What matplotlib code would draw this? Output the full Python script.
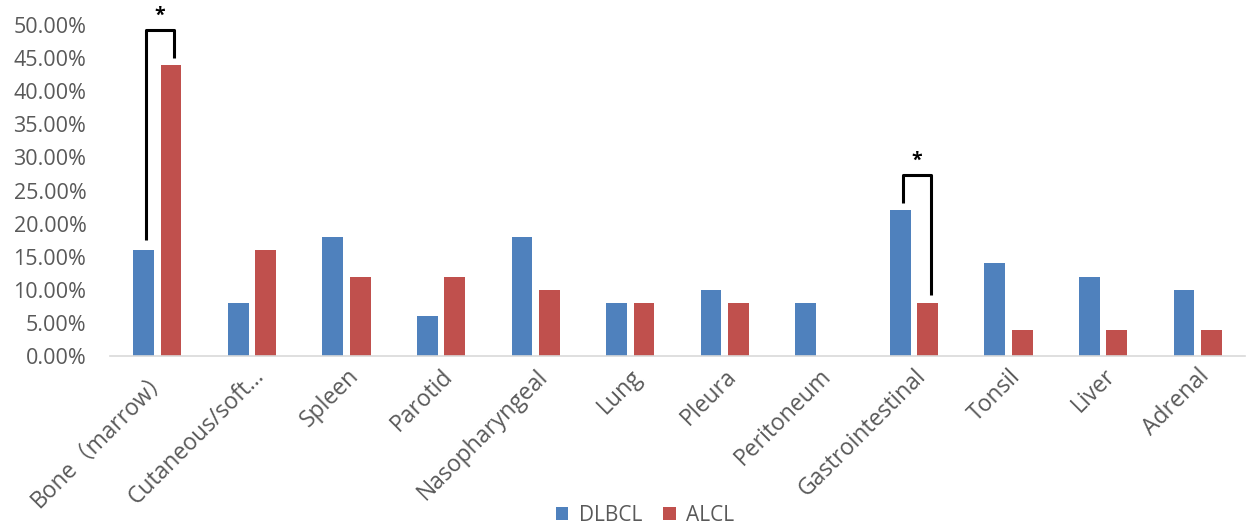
import matplotlib
matplotlib.use("Agg")
import matplotlib.pyplot as plt
import numpy as np
from matplotlib.ticker import FuncFormatter

categories = ["Bone（marrow）", "Cutaneous/soft…", "Spleen", "Parotid", "Nasopharyngeal",
              "Lung", "Pleura", "Peritoneum", "Gastrointestinal", "Tonsil", "Liver", "Adrenal"]
dlbcl = [0.16, 0.08, 0.18, 0.06, 0.18, 0.08, 0.10, 0.08, 0.22, 0.14, 0.12, 0.10]
alcl = [0.44, 0.16, 0.12, 0.12, 0.10, 0.08, 0.08, 0.00, 0.08, 0.04, 0.04, 0.04]
series_names = ["DLBCL", "ALCL"]
yticks = [0.0, 0.05, 0.10, 0.15, 0.20, 0.25, 0.30, 0.35, 0.40, 0.45, 0.50]

plt.rcParams['font.family'] = ['Open Sans', 'Noto Sans CJK SC', 'DejaVu Sans']

fig = plt.figure(figsize=(12.5, 5.24), dpi=100)
ax = fig.add_axes([0.088, 0.3206, 0.908, 0.6316])

x = np.arange(len(categories))
w = 0.22
gap = 0.07
off = (w + gap) / 2
blue = "#4F81BD"
red = "#C0504D"
ax.bar(x - off, dlbcl, width=w, color=blue, label=series_names[0])
ax.bar(x + off, alcl, width=w, color=red, label=series_names[1])

ax.set_xlim(-0.5, len(categories) - 0.5)
ax.set_ylim(0, 0.5)
ax.set_yticks(yticks)
ax.yaxis.set_major_formatter(FuncFormatter(lambda v, p: f"{v*100:.2f}%"))
for s in ["top", "right", "left"]:
    ax.spines[s].set_visible(False)
ax.spines["bottom"].set_color("#D9D9D9")
ax.spines["bottom"].set_linewidth(1.2)
ax.tick_params(axis="y", length=0, pad=17, labelsize=15.5, labelcolor="#595959")
ax.tick_params(axis="x", length=0, pad=6, labelsize=16.5, labelcolor="#595959")
ax.set_xticks(x)
ax.set_xticklabels(categories, rotation=45, ha="right", va="top", rotation_mode="anchor")

# significance brackets
def bracket(i, y_left, y_top, y_right):
    xl = x[i] - off + 0.03
    xr = x[i] + off + 0.03
    ax.plot([xl, xl, xr, xr], [y_left, y_top, y_top, y_right], color="black", lw=2.2,
            solid_capstyle="butt", clip_on=False)
    ax.text((xl + xr) / 2, y_top + 0.006, "*", ha="center", va="bottom", fontsize=14,
            color="black", fontweight="bold")

bracket(0, 0.175, 0.493, 0.45)
bracket(8, 0.231, 0.273, 0.092)

leg = fig.legend(loc="center", bbox_to_anchor=(0.516, 0.016), ncol=2, frameon=False,
                 fontsize=15, handlelength=0.6, handleheight=0.6, columnspacing=1.0,
                 handletextpad=0.5)
for t in leg.get_texts():
    t.set_color("#595959")

fig.savefig("out.png", dpi=100)
